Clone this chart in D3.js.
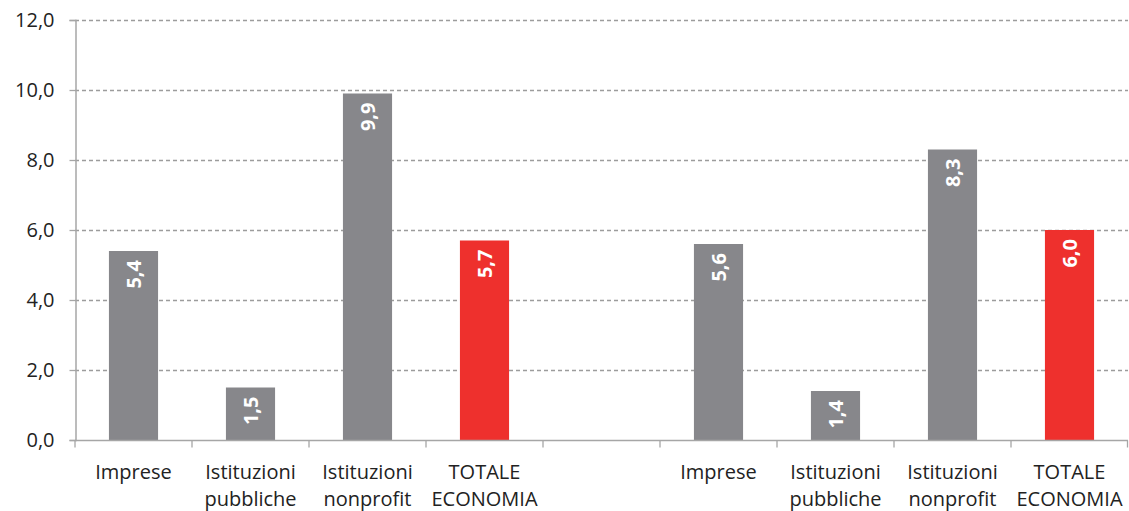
<!DOCTYPE html>
<html>
<head>
<meta charset="utf-8">
<script src="https://cdn.jsdelivr.net/npm/d3@7"></script>
<style>
body { margin: 0; background: #fff; }
text { font-family: "Open Sans", sans-serif; }
</style>
</head>
<body>
<script>
var width = 1129,
    height = 511;

// categories (the empty slot separates the two groups)
var categories = ["Imprese|", "Istituzioni|pubbliche", "Istituzioni|nonprofit", "TOTALE|ECONOMIA", "",
                  "Imprese|", "Istituzioni|pubbliche", "Istituzioni|nonprofit", "TOTALE|ECONOMIA"];
var values = [5.4, 1.5, 9.9, 5.7, null, 5.6, 1.4, 8.3, 6.0];
var isTotal = [false, false, false, true, false, false, false, false, true];
var yTicks = [0, 2, 4, 6, 8, 10, 12];

var margin = { top: 20, right: 1, bottom: 71, left: 75 };

var svg = d3.select("body").append("svg")
    .attr("width", width)
    .attr("height", height);

var x = d3.scaleBand()
    .domain(d3.range(categories.length))
    .range([margin.left, width - margin.right])
    .paddingInner(0.58)
    .paddingOuter(0.29);

var xb = d3.scaleBand()
    .domain(d3.range(categories.length))
    .range([margin.left, width - margin.right]);

var y = d3.scaleLinear()
    .domain([0, 12])
    .range([height - margin.bottom, margin.top]);

var fmt = function (v) { return d3.format(".1f")(v).replace(".", ","); };

// gridlines
svg.append("g").selectAll("line")
    .data(yTicks.filter(function (d) { return d > 0; }))
    .enter().append("line")
    .attr("x1", margin.left)
    .attr("x2", width - margin.right)
    .attr("y1", function (d) { return y(d) + 0.5; })
    .attr("y2", function (d) { return y(d) + 0.5; })
    .style("stroke", "#9c9c9c")
    .style("stroke-width", 1.3)
    .style("stroke-dasharray", "4,3");

// y axis
var yAxis = svg.append("g")
    .attr("transform", "translate(" + (margin.left + 0.5) + ",0)")
    .call(d3.axisLeft(y).tickValues(yTicks).tickSize(6).tickFormat(fmt));
yAxis.select(".domain").style("stroke", "#a6a6a6").style("stroke-width", 1.5);
yAxis.selectAll(".tick line").style("stroke", "#a6a6a6").style("stroke-width", 1.3);
yAxis.selectAll(".tick text")
    .attr("x", -21)
    .style("font-size", "20px")
    .style("fill", "#222");

// bars
var barData = values.map(function (v, i) { return { i: i, v: v, total: isTotal[i] }; })
    .filter(function (d) { return d.v !== null; });

svg.append("g").selectAll("rect")
    .data(barData)
    .enter().append("rect")
    .attr("x", function (d) { return x(d.i); })
    .attr("width", x.bandwidth())
    .attr("y", function (d) { return y(d.v); })
    .attr("height", function (d) { return y(0) - y(d.v); })
    .style("fill", function (d) { return d.total ? "#ee302d" : "#87878b"; });

// value labels, rotated
svg.append("g").selectAll("text")
    .data(barData)
    .enter().append("text")
    .attr("transform", function (d) {
        return "translate(" + (x(d.i) + x.bandwidth() / 2 + 7) + "," + (y(d.v) + 9) + ") rotate(-90)";
    })
    .attr("text-anchor", "end")
    .style("font-size", "20px")
    .style("font-weight", "bold")
    .style("fill", "#fff")
    .text(function (d) { return fmt(d.v); });

// x axis
var xAxis = svg.append("g")
    .attr("transform", "translate(0," + (y(0) + 0.5) + ")");
xAxis.append("line")
    .attr("x1", margin.left)
    .attr("x2", width - margin.right)
    .style("stroke", "#a6a6a6")
    .style("stroke-width", 1.5);
xAxis.selectAll(".xtick")
    .data(d3.range(categories.length + 1))
    .enter().append("line")
    .attr("class", "xtick")
    .attr("x1", function (d) { return Math.min(margin.left + d * xb.bandwidth(), width - 1.5); })
    .attr("x2", function (d) { return Math.min(margin.left + d * xb.bandwidth(), width - 1.5); })
    .attr("y1", 0)
    .attr("y2", 7)
    .style("stroke", "#a6a6a6")
    .style("stroke-width", 1.3);

var lab = xAxis.selectAll(".xlab")
    .data(categories)
    .enter().append("text")
    .attr("class", "xlab")
    .attr("text-anchor", "middle")
    .attr("x", function (d, i) { return xb(i) + xb.bandwidth() / 2; })
    .style("font-size", "20px")
    .style("fill", "#222");
lab.selectAll("tspan")
    .data(function (d) { return d.split("|"); })
    .enter().append("tspan")
    .attr("x", function () { return d3.select(this.parentNode).attr("x"); })
    .attr("y", function (d, j) { return 38 + j * 27; })
    .text(function (d) { return d; });
</script>
</body>
</html>
